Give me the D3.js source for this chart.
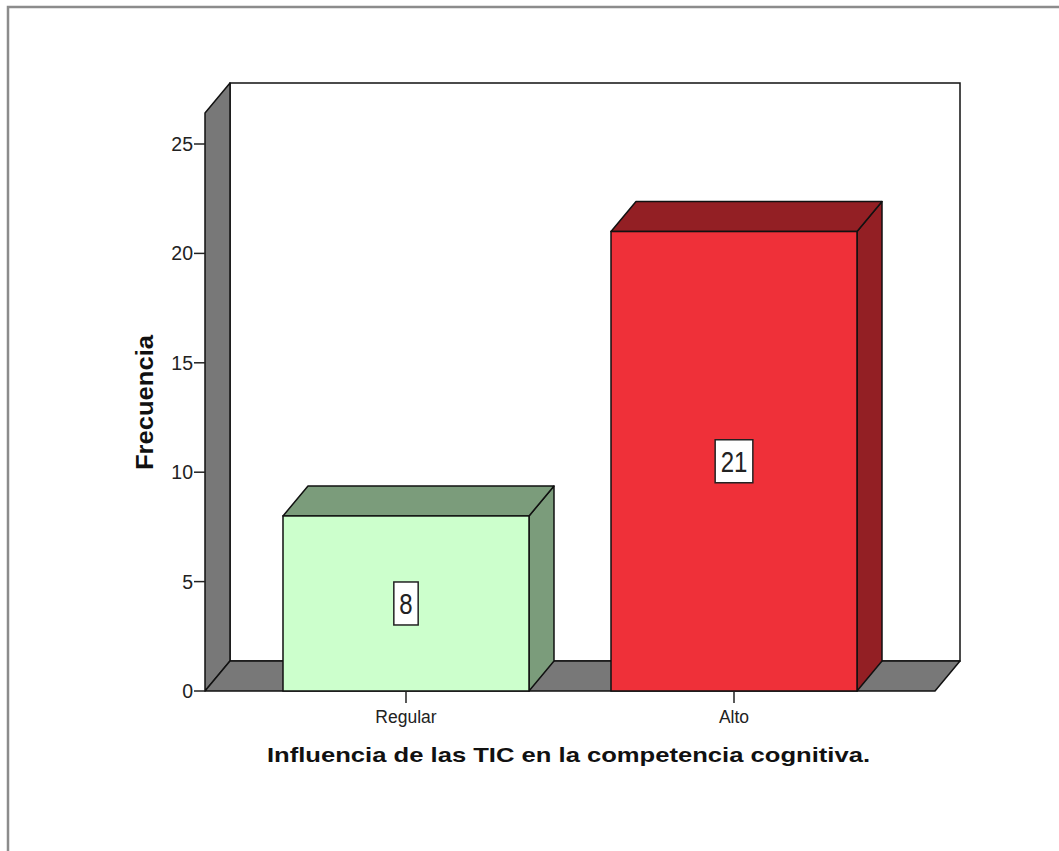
<!DOCTYPE html>
<html><head><meta charset="utf-8">
<script src="https://cdn.jsdelivr.net/npm/d3@7"></script>
<style>body{margin:0;background:#fff;}svg{display:block;}</style>
</head><body>
<svg id="c" width="1059" height="851"></svg>
<script>
const categories = ["Regular", "Alto"];
const values = [8, 21];
const yTicks = [0, 5, 10, 15, 20, 25];
const frontColors = ["#ccffcc", "#ef3039"];
const sideColors = ["#7b9c7b", "#931f24"];
const xTitle = "Influencia de las TIC en la competencia cognitiva.";
const yTitle = "Frecuencia";

const svg = d3.select("#c");
const font = "'Liberation Sans', Arial, sans-serif";

// outer frame
svg.append("rect").attr("x", 8).attr("y", 7).attr("width", 1100).attr("height", 900)
  .attr("fill", "none").attr("stroke", "#8c8c8c").attr("stroke-width", 2.5);

const dx = 25, dy = -30;
const x0 = 205, x1 = 935;
const y = d3.scaleLinear().domain([0, 25]).range([691, 144]);
const x = d3.scaleBand().domain(categories).range([x0 + 2, 933]).paddingInner(0.25).paddingOuter(0.2317);

const yTop = 113; // wall front top
const wallColor = "#787878";
// back wall
svg.append("rect").attr("x", x0 + dx).attr("y", yTop + dy).attr("width", x1 - x0)
  .attr("height", y(0) - yTop).attr("fill", "#fff").attr("stroke", "#111").attr("stroke-width", 1.5);
// left wall
svg.append("polygon").attr("points", [[x0, y(0)], [x0, yTop], [x0 + dx, yTop + dy], [x0 + dx, y(0) + dy]].join(" "))
  .attr("fill", wallColor).attr("stroke", "#111").attr("stroke-width", 1.5).attr("stroke-linejoin", "round");
// floor
svg.append("polygon").attr("points", [[x0, y(0)], [x1, y(0)], [x1 + dx, y(0) + dy], [x0 + dx, y(0) + dy]].join(" "))
  .attr("fill", wallColor).attr("stroke", "#111").attr("stroke-width", 1.5).attr("stroke-linejoin", "round");

// y axis ticks
const ya = svg.append("g");
yTicks.forEach(t => {
  ya.append("line").attr("x1", x0 - 11).attr("x2", x0).attr("y1", y(t)).attr("y2", y(t))
    .attr("stroke", "#222").attr("stroke-width", 1.5);
  ya.append("text").attr("x", x0 - 12).attr("y", y(t)).attr("dy", "0.36em")
    .attr("text-anchor", "end").attr("font-family", font).attr("font-size", 19.5)
    .attr("fill", "#222").text(t);
});

// bars
categories.forEach((c, i) => {
  const bx = x(c), bw = x.bandwidth(), by = y(values[i]), b0 = y(0);
  const g = svg.append("g");
  // side
  g.append("polygon").attr("points", [[bx + bw, b0], [bx + bw, by], [bx + bw + dx, by + dy], [bx + bw + dx, b0 + dy]].join(" "))
    .attr("fill", sideColors[i]).attr("stroke", "#111").attr("stroke-width", 1.5).attr("stroke-linejoin", "round");
  // top
  g.append("polygon").attr("points", [[bx, by], [bx + bw, by], [bx + bw + dx, by + dy], [bx + dx, by + dy]].join(" "))
    .attr("fill", sideColors[i]).attr("stroke", "#111").attr("stroke-width", 1.5).attr("stroke-linejoin", "round");
  // front
  g.append("rect").attr("x", bx).attr("y", by).attr("width", bw).attr("height", b0 - by)
    .attr("fill", frontColors[i]).attr("stroke", "#111").attr("stroke-width", 1.5);
  // value label
  const cx = bx + bw / 2, cy = (by + b0) / 2;
  const lg = g.append("g").attr("transform", `translate(${cx},${cy})`);
  const txt = lg.append("text").attr("text-anchor", "middle").attr("dy", "0.36em")
    .attr("transform", "scale(0.8,1)")
    .attr("font-family", font).attr("font-size", 30).attr("fill", "#222").text(values[i]);
  const w = txt.node().getComputedTextLength() * 0.8 + 11;
  lg.insert("rect", "text").attr("x", -w / 2).attr("y", -21.5).attr("width", w).attr("height", 43)
    .attr("fill", "#fff").attr("stroke", "#222").attr("stroke-width", 1.5);
  // category tick and label
  svg.append("line").attr("x1", cx).attr("x2", cx).attr("y1", b0).attr("y2", b0 + 12)
    .attr("stroke", "#222").attr("stroke-width", 1.5);
  svg.append("text").attr("x", cx).attr("y", 723).attr("text-anchor", "middle")
    .attr("font-family", font).attr("font-size", 17.5).attr("fill", "#222").text(c);
});

// titles
svg.append("text").attr("x", 568.5).attr("y", 762).attr("text-anchor", "middle")
  .attr("font-family", font).attr("font-size", 21).attr("font-weight", "bold").attr("fill", "#111")
  .attr("textLength", 603).attr("lengthAdjust", "spacingAndGlyphs").text(xTitle);
svg.append("text").attr("transform", "translate(153,402.5) rotate(-90)").attr("text-anchor", "middle")
  .attr("font-family", font).attr("font-size", 24).attr("font-weight", "bold").attr("fill", "#111")
  .attr("textLength", 135).attr("lengthAdjust", "spacingAndGlyphs").text(yTitle);
</script>
</body></html>
